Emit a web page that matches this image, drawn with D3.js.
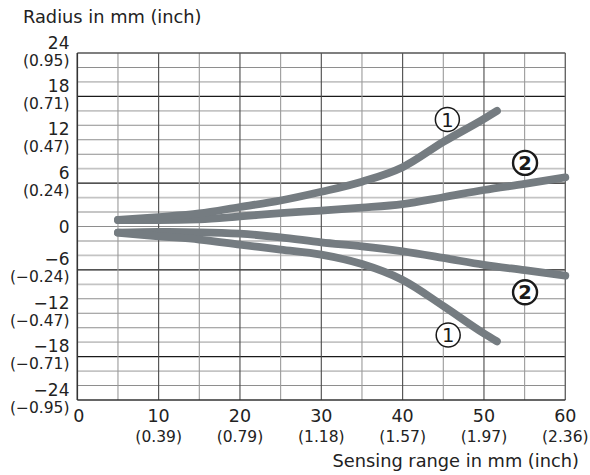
<!DOCTYPE html>
<html><head><meta charset="utf-8">
<script src="https://cdn.jsdelivr.net/npm/d3@7"></script>
<style>
html,body{margin:0;padding:0;background:#fff;}
svg{display:block;font-family:"DejaVu Sans",sans-serif;}
</style></head>
<body><svg id="c" width="590" height="475"></svg>
<script>
// ---- data ----
const xTicks = [0, 10, 20, 30, 40, 50, 60];
const xInch = ["", "(0.39)", "(0.79)", "(1.18)", "(1.57)", "(1.97)", "(2.36)"];
const yTicks = [24, 18, 12, 6, 0, -6, -12, -18, -24];
const yInch = ["(0.95)", "(0.71)", "(0.47)", "(0.24)", "", "(\u22120.24)", "(\u22120.47)", "(\u22120.71)", "(\u22120.95)"];

const c1x = [5, 10, 15, 20, 25, 30, 35, 40, 45, 50, 51.6];
const c1Upper = [0.9, 1.3, 1.8, 2.7, 3.6, 4.8, 6.2, 8.2, 11.7, 14.9, 16.0];
const c1Lower = [-0.85, -1.35, -1.8, -2.5, -3.2, -3.9, -5.2, -7.4, -11.0, -14.8, -15.9];
const c2x = [5, 10, 15, 20, 25, 30, 35, 40, 45, 50, 55, 60];
const c2Upper = [0.9, 0.9, 1.0, 1.4, 1.85, 2.2, 2.6, 3.1, 4.05, 5.05, 5.9, 6.8];
const c2Lower = [-0.85, -0.75, -0.8, -1.0, -1.5, -2.2, -2.75, -3.45, -4.35, -5.3, -6.05, -6.8];

const labelNum = ["1", "2", "2", "1"];
const labelX = [45.5, 55.05, 55.05, 45.6];
const labelY = [14.8, 8.8, -9.1, -15.0];

// ---- drawing ----
const svg = d3.select("#c");
const x = d3.scaleLinear().domain([0, 60]).range([77.3, 565.3]);
const y = d3.scaleLinear().domain([-24, 24]).range([400, 53]);
const txt = "#222";

// horizontal grid every 2 mm
const hLines = d3.range(-22, 23, 2);
function hMod(v) { return ((v - 6) % 12 + 12) % 12; }
function hColor(v) {
  const m = hMod(v);
  if (m === 0) return "#1a1a1a";
  if (m === 2 || m === 10) return "#c4c4c4";
  return "#8e8e8e";
}
function hWidth(v) {
  const m = hMod(v);
  if (m === 2 || m === 10) return 1.6;
  return 1.1;
}
svg.append("g").selectAll("line").data(hLines).join("line")
  .attr("x1", x(0)).attr("x2", x(60))
  .attr("y1", d => y(d)).attr("y2", d => y(d))
  .attr("stroke", hColor).attr("stroke-width", hWidth);

// vertical grid every 5 mm
const vLines = d3.range(5, 60, 5);
svg.append("g").selectAll("line").data(vLines).join("line")
  .attr("y1", y(24)).attr("y2", y(-24))
  .attr("x1", d => x(d)).attr("x2", d => x(d))
  .attr("stroke", d => d % 10 === 0 ? "#4a4a4a" : "#9a9a9a")
  .attr("stroke-width", 1.1);

// frame
svg.append("line").attr("x1", x(0)).attr("x2", x(60)).attr("y1", y(24)).attr("y2", y(24)).attr("stroke", "#555").attr("stroke-width", 1.4);
svg.append("line").attr("x1", x(60)).attr("x2", x(60)).attr("y1", y(24)).attr("y2", y(-24)).attr("stroke", "#666").attr("stroke-width", 1.4);
svg.append("line").attr("x1", x(0)).attr("x2", x(60)).attr("y1", y(-24)).attr("y2", y(-24)).attr("stroke", "#333").attr("stroke-width", 1.6);
svg.append("line").attr("x1", x(0)).attr("x2", x(0)).attr("y1", y(24)).attr("y2", y(-24)).attr("stroke", "#333").attr("stroke-width", 1.6);

// curves
const line = d3.line().x(d => x(d[0])).y(d => y(d[1])).curve(d3.curveMonotoneX);
const series = [
  d3.zip(c2x, c2Upper), d3.zip(c2x, c2Lower),
  d3.zip(c1x, c1Upper), d3.zip(c1x, c1Lower)
];
svg.append("g").selectAll("path").data(series).join("path")
  .attr("d", line).attr("fill", "none")
  .attr("stroke", "#757c81").attr("stroke-width", 7.8)
  .attr("stroke-linecap", "round").attr("stroke-linejoin", "round");

// circled labels
const lg = svg.append("g").selectAll("g").data(labelNum.map((n, i) => ({ n, x: labelX[i], y: labelY[i] }))).join("g")
  .attr("transform", d => `translate(${x(d.x)},${y(d.y)})`);
lg.append("circle").attr("r", 12)
  .attr("fill", "#fff").attr("stroke", "#1a1a1a")
  .attr("stroke-width", d => d.n === "2" ? 2.4 : 1.5);
lg.append("text").text(d => d.n).attr("text-anchor", "middle").attr("dy", "7")
  .attr("font-size", 19.5).attr("font-weight", d => d.n === "2" ? "bold" : "normal")
  .attr("fill", "#1a1a1a");

// y axis labels
const yl = svg.append("g").attr("fill", txt).attr("text-anchor", "end");
yl.selectAll("text.mm").data(yTicks).join("text").attr("class", "mm")
  .attr("x", 69.5).attr("y", d => d === 0 ? y(d) + 6.5 : y(d) - 4.5)
  .attr("font-size", 17).text(d => d < 0 ? "\u2212" + Math.abs(d) : d);
yl.selectAll("text.in").data(yTicks.map((d, i) => [d, yInch[i]]).filter(d => d[1])).join("text").attr("class", "in")
  .attr("x", 69.5).attr("y", d => y(d[0]) + 12.5)
  .attr("font-size", 15.5).text(d => d[1]);

// x axis labels
const xl = svg.append("g").attr("fill", txt).attr("text-anchor", "middle");
xl.selectAll("text.mm").data(xTicks).join("text").attr("class", "mm")
  .attr("x", d => x(d) + (d === 0 ? 1.5 : 0)).attr("y", 422)
  .attr("font-size", 17.5).text(d => d);
xl.selectAll("text.in").data(xTicks.map((d, i) => [d, xInch[i]]).filter(d => d[1])).join("text").attr("class", "in")
  .attr("x", d => x(d[0])).attr("y", 442)
  .attr("font-size", 15.5).text(d => d[1]);

// titles
svg.append("text").attr("x", 23).attr("y", 23).attr("font-size", 17.8).attr("fill", txt).text("Radius in mm (inch)");
svg.append("text").attr("x", 579).attr("y", 466.5).attr("text-anchor", "end").attr("font-size", 17.8).attr("fill", txt).text("Sensing range in mm (inch)");
</script></body></html>
